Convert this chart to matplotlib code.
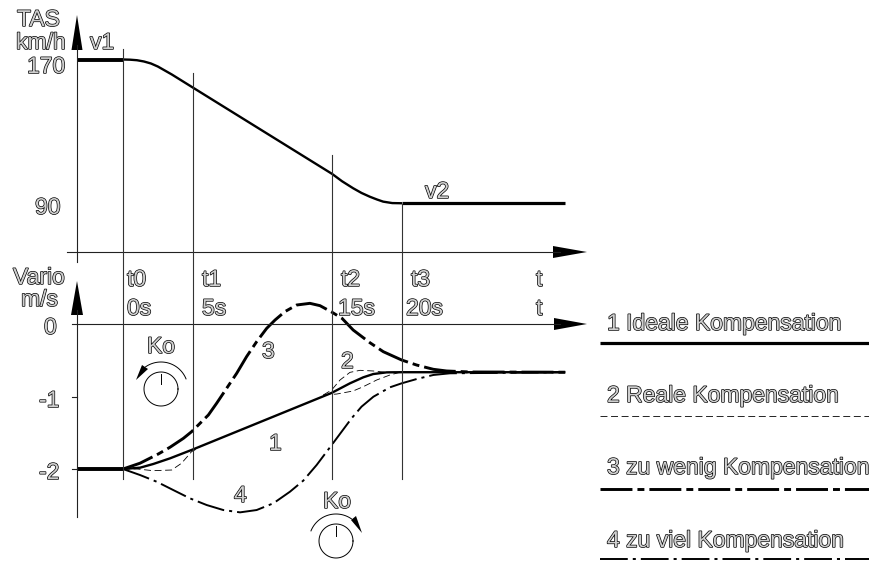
import matplotlib
matplotlib.use('Agg')
import matplotlib.pyplot as plt
import matplotlib.patheffects as pe
import numpy as np

plt.rcParams['font.family'] = ['Liberation Sans', 'DejaVu Sans']
plt.rcParams['lines.scale_dashes'] = False
plt.rcParams['lines.solid_joinstyle'] = 'round'
plt.rcParams['lines.dash_joinstyle'] = 'round'

# times of the guide lines, seconds
guide_times = [0, 5, 15, 20]
guide_names = ['t0', 't1', 't2', 't3']
guide_labels = ['0s', '5s', '15s', '20s']

# TAS km/h
tas_t = [0, 0.5, 1, 1.5, 2, 2.5, 3, 3.5, 4, 4.5, 5, 15, 15.7, 16.5, 17.1, 17.7, 18.2, 18.65, 19.3, 20]
tas_v = [170, 169.9, 169.6, 168.9, 167.8, 166.1, 163.9, 161.7, 159.3, 156.9, 154.5,
         106.6, 102.6, 98.7, 96.1, 94.0, 92.5, 91.3, 90.5, 90.4]
tas_start_t = [-3.3, 0]
tas_start_v = [170, 170]
tas_end_t = [20, 31.7]
tas_end_v = [90.4, 90.4]

# vario m/s
ideal_t = [-3.3, 0, 1.22, 2.17, 3.37, 5.04, 14.96, 16.27, 17.23, 17.94, 18.9, 20, 31.7]
ideal_v = [-2, -2, -1.982, -1.931, -1.853, -1.728, -0.95, -0.818, -0.735, -0.69, -0.667, -0.665, -0.665]
ideal_start_t = [-3.3, 0]
ideal_start_v = [-2, -2]

real_a_t = [0, 1, 2.17, 3.49, 4.2, 4.92, 5.52]
real_a_v = [-2, -2.0, -2.023, -2.014, -1.92, -1.76, -1.70]
real_b_t = [14.36, 15.32, 16.5, 17.23, 18.19, 19.14, 19.74, 20.2]
real_b_v = [-0.979, -0.966, -0.924, -0.864, -0.772, -0.703, -0.672, -0.665]
real_c_t = [14.36, 14.96, 15.56, 16.27, 16.99, 17.94, 18.9, 20]
real_c_v = [-0.979, -0.91, -0.772, -0.667, -0.639, -0.648, -0.667, -0.665]

low_t = [0, 1.22, 2.53, 3.37, 4.33, 4.92, 5.4, 6.12, 6.71, 7.43, 8.15, 8.86, 9.58, 10.3, 10.9, 11.6,
         12.45, 13.4, 14.12, 14.96, 15.7, 16.5, 17.7, 18.66, 19.98, 21.05, 22.25, 23.2, 24.9, 31.7]
low_v = [-2, -1.92, -1.793, -1.70, -1.577, -1.485, -1.393, -1.255, -1.094, -0.887, -0.68, -0.45, -0.244,
         -0.06, 0.055, 0.17, 0.262, 0.285, 0.253, 0.165, 0.078, -0.083, -0.258, -0.382, -0.497, -0.566,
         -0.625, -0.648, -0.662, -0.665]

high_t = [0, 1.22, 2.41, 3.6, 4.8, 6.0, 7.19, 8.39, 9.58, 10.78, 11.97, 12.92, 13.88, 14.96, 16.39, 17.1,
          17.95, 19.14, 19.98, 21.05, 22.25, 23.44, 31.7]
high_v = [-2, -2.083, -2.175, -2.29, -2.405, -2.497, -2.566, -2.598, -2.566, -2.473, -2.313, -2.161, -1.945,
          -1.669, -1.30, -1.14, -1.003, -0.873, -0.818, -0.759, -0.703, -0.68, -0.665]

legend_names = ['1 Ideale Kompensation', '2 Reale Kompensation',
                '3 zu wenig Kompensation', '4 zu viel Kompensation']

ink = '#000000'
guide_col = '#333333'
style_ideal = dict(color=ink, lw=1.7, solid_capstyle='butt')
style_real = dict(color=ink, lw=0.6, ls=(0, (5, 2.6)))
style_low = dict(color=ink, lw=2.1, ls=(0, (23, 3.6, 5, 3.6)))
style_high = dict(color=ink, lw=1.4, ls=(0, (20, 3.6, 2.2, 3.6)))

fig = plt.figure(figsize=(8.69, 5.61), dpi=100)

# both panels span the whole figure, the limits put them in their place
xlim = (-123 / 13.95, (869 - 123) / 13.95)
ax_tas = fig.add_axes([0, 0, 1, 1])
ax_tas.set_xlim(xlim)
ax_tas.set_ylim(170 - (561 - 59.5) / 1.806, 170 + 59.5 / 1.806)
ax_var = fig.add_axes([0, 0, 1, 1])
ax_var.set_xlim(xlim)
ax_var.set_ylim(-(561 - 324) / 72.5, 324 / 72.5)
ax_px = fig.add_axes([0, 0, 1, 1])
ax_px.set_xlim(0, 869)
ax_px.set_ylim(561, 0)
for a in (ax_tas, ax_var, ax_px):
    a.axis('off')
    a.patch.set_alpha(0)

# axes lines and arrows
ax_px.plot([77, 77], [45, 262], color='#222222', lw=0.8)
ax_px.plot([77, 77], [310, 517], color='#222222', lw=0.8)
ax_px.plot([67, 560], [252, 252], color='#222222', lw=0.8)
ax_px.plot([72, 560], [324, 324], color='#222222', lw=0.8)
ax_px.plot([72, 77], [397, 397], color='#222222', lw=0.8)
ax_px.plot([72, 77], [469, 469], color='#222222', lw=0.8)
ax_px.fill([77, 71.5, 82.5], [15, 50, 50], color=ink, lw=0)
ax_px.fill([77, 71, 83], [281, 315, 315], color=ink, lw=0)
ax_px.fill([587, 553, 553], [252, 246, 258], color=ink, lw=0)
ax_px.fill([587, 554, 554], [324, 318, 330], color=ink, lw=0)

# guides, the tops differ
guide_tops = [49, 73, 155, 204]
for t, top in zip(guide_times, guide_tops):
    x = 123 + t * 13.95
    ax_px.plot([x, x], [top, 479], color=guide_col, lw=0.8)

# curves
ax_tas.plot(tas_t, tas_v, **style_ideal)
ax_tas.plot(tas_start_t, tas_start_v, color=ink, lw=2.8, solid_capstyle='butt')
ax_tas.plot(tas_end_t, tas_end_v, color=ink, lw=2.3, solid_capstyle='butt')

ax_var.plot(real_a_t, real_a_v, **style_real)
ax_var.plot(real_b_t, real_b_v, **style_real)
ax_var.plot(real_c_t, real_c_v, **style_real)
ax_var.plot(low_t, low_v, **style_low)
ax_var.plot(high_t, high_v, **style_high)
ax_var.plot(ideal_t, ideal_v, **style_ideal)
ax_var.plot(ideal_start_t, ideal_start_v, color=ink, lw=2.8, solid_capstyle='butt')


def knob(cx, cy, a0, a1):
    ang = np.radians(np.linspace(a0, a1, 40))
    ax_px.plot(cx + 17 * np.cos(np.linspace(0, 2 * np.pi, 80)),
               cy + 17 * np.sin(np.linspace(0, 2 * np.pi, 80)), color=ink, lw=0.7)
    ax_px.plot([cx, cx], [cy - 15, cy - 5], color=ink, lw=0.7)
    ax_px.plot(cx + 27 * np.cos(ang), cy + 27 * np.sin(ang), color=ink, lw=0.7)


knob(161, 389, -22, -125)
ax_px.fill([136, 148, 142], [380, 369, 365], color=ink, lw=0)
knob(336, 541, -158, -55)
ax_px.fill([362, 351, 356], [533, 520, 516], color=ink, lw=0)

# text is drawn hollow in the reference
outline = [pe.Stroke(linewidth=1.0, foreground='#000000'), pe.Normal()]


def label(x, y, s, size=16.5):
    ax_px.text(x, y, s, fontsize=size, color='#cfcfcf', ha='left', va='baseline',
               path_effects=outline)


label(17, 26, 'TAS')
label(16, 49, 'km/h')
label(90, 49, 'v1')
label(27, 73, '170')
label(35, 214, '90')
label(425, 198, 'v2')
label(13, 284, 'Vario')
label(21, 306, 'm/s')
label(44, 334, '0')
label(39, 407, '-1')
label(39, 479, '-2')
for name, txt, x1, x2 in zip(guide_names, guide_labels, [127, 202, 341, 411], [127, 202, 338, 406]):
    label(x1, 286, name)
    label(x2, 315, txt)
label(536, 286, 't')
label(536, 315, 't')
label(147, 353, 'Ko')
label(323, 508, 'Ko')
label(262, 358, '3')
label(269, 450, '1')
label(234, 502, '4')
label(341, 368, '2')

# legend
legend_base = [330, 402, 474, 547]
legend_line = [343, 416, 489, 559]
legend_styles = [dict(color=ink, lw=2.3, solid_capstyle='butt'), style_real, style_low, style_high]
for name, b, y, st in zip(legend_names, legend_base, legend_line, legend_styles):
    label(607, b, name)
    ax_px.plot([600, 869], [y, y], **st)

fig.savefig('out.png', dpi=100)
